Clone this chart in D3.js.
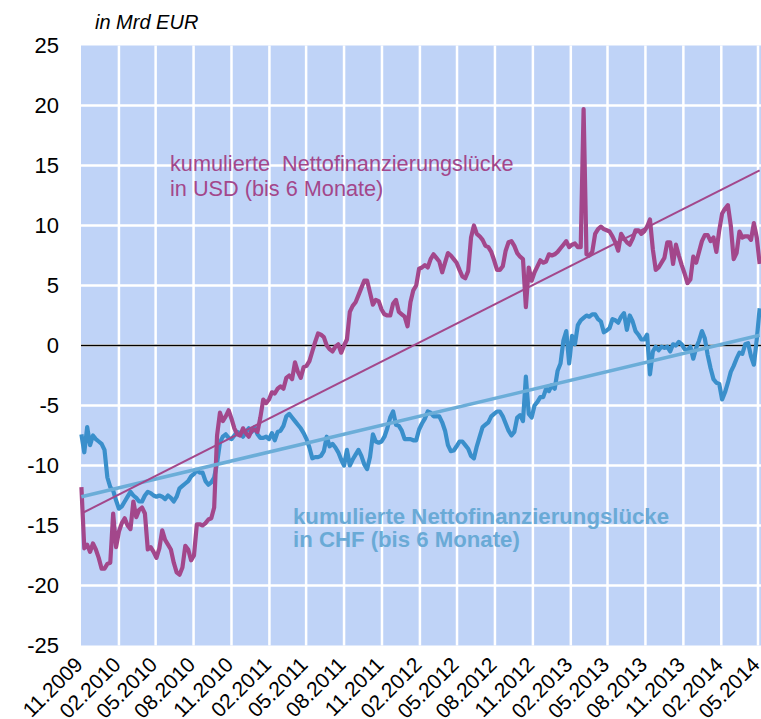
<!DOCTYPE html>
<html>
<head>
<meta charset="utf-8">
<script src="https://cdn.jsdelivr.net/npm/d3@7"></script>
<style>
  body { margin: 0; background: #fff; }
  text { font-family: "Liberation Sans", Arial, sans-serif; }
</style>
</head>
<body>
<svg class="chart"></svg>
<script>
// weekly observations, first one in the week of 02.11.2009
var startDate = "2009-11-02";

// cumulated net funding gap in USD (up to 6 months), bn EUR
var usdValues = [
  -11.8, -16.9, -16.6, -17.2, -16.5, -17.0, -17.7, -18.6, -18.6, -18.2,
  -18.1, -14.0, -16.8, -15.5, -14.8, -14.4, -15.0, -15.3, -13.0, -14.3,
  -13.7, -13.5, -14.0, -17.0, -16.8, -17.2, -17.7, -16.9, -15.4, -16.2,
  -16.6, -17.0, -18.1, -18.9, -19.1, -18.5, -16.7, -17.0, -17.9, -17.5,
  -14.9, -14.9, -15.0, -14.8, -14.5, -14.4, -13.5, -7.5, -5.6, -6.3,
  -5.9, -5.4, -6.1, -6.9, -7.4, -7.5, -6.9, -7.3, -7.6, -7.1,
  -7.0, -7.2, -6.0, -4.5, -4.8, -4.5, -3.9, -4.0, -3.6, -3.4,
  -3.6, -2.7, -2.5, -2.8, -1.4, -2.2, -2.7, -1.8, -1.7, -1.3,
  -0.5, 0.3, 1.0, 0.9, 0.7, 0.0, -0.3, -0.5, -0.1, 0.1,
  -0.6, 0.0, 0.5, 2.8, 3.3, 3.6, 4.2, 4.8, 5.4, 5.4,
  4.4, 3.4, 3.8, 3.7, 3.0, 2.6, 2.5, 2.5, 3.5, 3.8,
  2.8, 2.6, 2.4, 1.6, 3.6, 4.6, 5.0, 6.4, 6.5, 6.7,
  6.5, 7.2, 7.6, 7.3, 7.0, 6.1, 6.9, 7.7, 7.5, 7.2,
  6.9, 6.3, 5.75, 5.6, 6.2, 9.0, 10.0, 9.3, 9.1, 8.8,
  8.3, 8.2, 7.8, 7.1, 6.3, 6.3, 6.6, 7.9, 8.6, 8.7,
  8.3, 7.7, 7.4, 7.2, 3.2, 6.5, 5.4, 6.1, 6.6, 7.1,
  6.9, 7.0, 7.6, 7.5, 7.6, 7.8, 8.1, 8.4, 8.7, 8.2,
  8.4, 8.5, 8.2, 8.2, 19.7, 7.6, 7.5, 7.8, 9.3, 9.7,
  9.9, 9.7, 9.6, 9.5, 9.1, 8.6, 7.9, 9.3, 8.9, 8.6,
  8.4, 8.9, 9.6, 9.6, 9.3, 9.5, 9.9, 10.5, 8.0, 6.3,
  6.5, 6.9, 7.3, 8.6, 8.6, 6.8, 8.4, 7.5, 6.7, 6.0,
  5.2, 5.5, 7.4, 6.9, 7.8, 8.7, 9.2, 9.2, 8.7, 9.0,
  7.8, 9.6, 11.0, 11.4, 11.7, 10.0, 7.2, 7.7, 9.5, 9.0,
  9.1, 9.1, 8.8, 10.2, 9.0, 6.8
];

// cumulated net funding gap in CHF (up to 6 months), bn EUR
var chfValues = [
  -7.4, -8.9, -6.8, -8.3, -7.5, -7.8, -8.0, -8.2, -8.7, -11.0,
  -11.8, -12.1, -12.9, -13.6, -13.4, -13.0, -12.6, -12.2, -12.5, -12.7,
  -13.0, -13.0, -12.5, -12.2, -12.3, -12.5, -12.6, -12.5, -12.6, -12.8,
  -12.5, -12.7, -13.0, -12.6, -11.9, -11.7, -11.5, -11.3, -10.9, -10.7,
  -10.4, -10.6, -10.6, -11.3, -11.6, -11.4, -11.0, -9.8, -8.1, -7.6,
  -7.4, -7.7, -7.8, -7.5, -7.2, -7.3, -7.6, -7.2, -6.9, -7.2,
  -6.8, -7.4, -7.7, -7.7, -7.6, -7.8, -7.3, -7.9, -7.2, -7.1,
  -6.7, -5.9, -5.7, -6.0, -6.3, -6.6, -6.9, -7.3, -7.8, -8.5,
  -9.4, -9.3, -9.3, -9.2, -8.8, -7.6, -8.4, -8.2, -8.5, -8.9,
  -9.5, -10.0, -8.7, -10.0, -9.5, -9.1, -8.7, -9.2, -9.9, -10.3,
  -9.3, -7.4, -8.0, -8.1, -8.0, -7.6, -6.9, -6.0, -5.5, -6.6,
  -6.7, -7.1, -7.8, -7.8, -7.8, -7.9, -7.9, -7.0, -6.5, -6.1,
  -5.5, -5.6, -5.9, -5.9, -5.9, -6.4, -7.1, -8.3, -8.8, -8.75,
  -8.4, -8.0, -8.0, -8.3, -8.6, -9.2, -9.4, -8.4, -7.6, -6.8,
  -6.6, -6.4, -5.9, -5.7, -5.5, -5.5, -5.9, -6.5, -7.1, -7.5,
  -7.2, -6.0, -5.8, -6.3, -2.6, -5.7, -6.0, -5.0, -4.7, -4.3,
  -4.3, -3.6, -3.8, -3.3, -3.6, -2.1, -1.5, 0.4, 1.2, -1.5,
  0.8, 0.1, 1.7, 2.1, 2.3, 2.5, 2.4, 2.6, 2.6, 2.2,
  2.0, 1.1, 1.25, 1.45, 2.2, 2.1, 1.9, 2.4, 2.7, 1.3,
  2.5, 2.0, 1.2, 0.9, 0.5, 0.5, 0.9, -2.4, -0.5, -0.1,
  -0.4, -0.1, -0.2, -0.1, -0.5, 0.1, 0.0, 0.3, 0.1, -0.3,
  -0.4, -0.1, -1.1, -0.2, 0.4, 1.2, 0.6, -0.8, -1.9, -2.8,
  -3.1, -3.2, -4.5, -3.9, -3.1, -2.2, -1.7, -1.1, -0.6, -0.7,
  0.1, 0.2, -0.9, -1.6, 0.5, 3.1
];

// linear trend lines, value at first and last week
var usdTrend = [-14.0, 14.6];
var chfTrend = [-12.6, 0.85];

var tickLabels = ["11.2009", "02.2010", "05.2010", "08.2010", "11.2010", "02.2011", "05.2011",
  "08.2011", "11.2011", "02.2012", "05.2012", "08.2012", "11.2012", "02.2013", "05.2013",
  "08.2013", "11.2013", "02.2014", "05.2014"];
var yTickValues = [-25, -20, -15, -10, -5, 0, 5, 10, 15, 20, 25];

var width = 761, height = 719;
var plot = {left: 81, right: 761, top: 45.5, bottom: 645.5};

var parseTick = d3.timeParse("%m.%Y");
var start = d3.timeParse("%Y-%m-%d")(startDate);

var x = d3.scaleTime()
  .domain([parseTick(tickLabels[0]), parseTick(tickLabels[tickLabels.length - 1])])
  .range([plot.left, 758]);
var y = d3.scaleLinear().domain([-25, 25]).range([plot.bottom, plot.top]);

function weekly(values) {
  return values.map(function(v, i) { return {date: d3.timeDay.offset(start, 7 * i), v: v}; });
}
var usd = weekly(usdValues);
var chf = weekly(chfValues);

var svg = d3.select(".chart").attr("width", width).attr("height", height);

// plot background
svg.append("rect")
  .attr("x", plot.left).attr("y", plot.top)
  .attr("width", plot.right - plot.left).attr("height", plot.bottom - plot.top)
  .attr("fill", "#bfd3f7");

// white grid
svg.append("g").selectAll("line")
  .data(tickLabels.slice(1))
  .enter().append("line")
  .attr("x1", function(d) { return x(parseTick(d)); })
  .attr("x2", function(d) { return x(parseTick(d)); })
  .attr("y1", plot.top).attr("y2", plot.bottom)
  .attr("stroke", "#fff").attr("stroke-width", 2.5);

svg.append("g").selectAll("line")
  .data(yTickValues.slice(1, -1))
  .enter().append("line")
  .attr("x1", plot.left).attr("x2", plot.right)
  .attr("y1", function(d) { return y(d); })
  .attr("y2", function(d) { return y(d); })
  .attr("stroke", "#fff").attr("stroke-width", 2.5);

// zero line
svg.append("line")
  .attr("x1", plot.left).attr("x2", plot.right)
  .attr("y1", y(0)).attr("y2", y(0))
  .attr("stroke", "#000").attr("stroke-width", 1.6);

var line = d3.line()
  .x(function(d) { return x(d.date); })
  .y(function(d) { return y(d.v); });

svg.append("path").datum(chf)
  .attr("d", line).attr("fill", "none")
  .attr("stroke", "#3a8fcb").attr("stroke-width", 4.2)
  .attr("stroke-linejoin", "round");

svg.append("path").datum(usd)
  .attr("d", line).attr("fill", "none")
  .attr("stroke", "#a3478b").attr("stroke-width", 4.2)
  .attr("stroke-linejoin", "round");

// trend lines
function trend(values, series) {
  return [{date: series[0].date, v: values[0]}, {date: series[series.length - 1].date, v: values[1]}];
}
svg.append("path").datum(trend(chfTrend, chf))
  .attr("d", line).attr("fill", "none")
  .attr("stroke", "#6badd8").attr("stroke-width", 3.5);

svg.append("path").datum(trend(usdTrend, usd))
  .attr("d", line).attr("fill", "none")
  .attr("stroke", "#a3478b").attr("stroke-width", 2);

// y axis labels (plain hyphen as minus, like the original)
svg.append("g")
  .attr("transform", "translate(" + (plot.left - 22) + ",0)")
  .call(d3.axisLeft(y).tickValues(yTickValues).tickSize(0).tickPadding(0)
    .tickFormat(function(d) { return String(d); }))
  .call(function(g) { g.select(".domain").remove(); })
  .selectAll("text")
  .attr("fill", "#000")
  .style("font-size", "22px");

// x axis labels, rotated
svg.append("g").selectAll("text")
  .data(tickLabels)
  .enter().append("text")
  .attr("transform", function(d) { return "translate(" + (x(parseTick(d)) + 3) + ",666) rotate(-45)"; })
  .style("text-anchor", "end")
  .style("font-size", "21px")
  .attr("fill", "#000")
  .text(function(d) { return d; });

// unit
svg.append("text")
  .attr("x", 95).attr("y", 29)
  .style("font-size", "20px").style("font-style", "italic")
  .text("in Mrd EUR");

// series labels
var usdLabel = svg.append("text").attr("fill", "#a3478b").style("font-size", "21.7px");
usdLabel.append("tspan").attr("x", 170).attr("y", 171).text("kumulierte\u00a0 Nettofinanzierungslücke");
usdLabel.append("tspan").attr("x", 170).attr("y", 196).text("in USD (bis 6 Monate)");

var chfLabel = svg.append("text").attr("fill", "#6aaad6").style("font-size", "22.2px").style("font-weight", "bold");
chfLabel.append("tspan").attr("x", 293).attr("y", 524).text("kumulierte Nettofinanzierungslücke");
chfLabel.append("tspan").attr("x", 293).attr("y", 547).text("in CHF (bis 6 Monate)");
</script>
</body>
</html>
